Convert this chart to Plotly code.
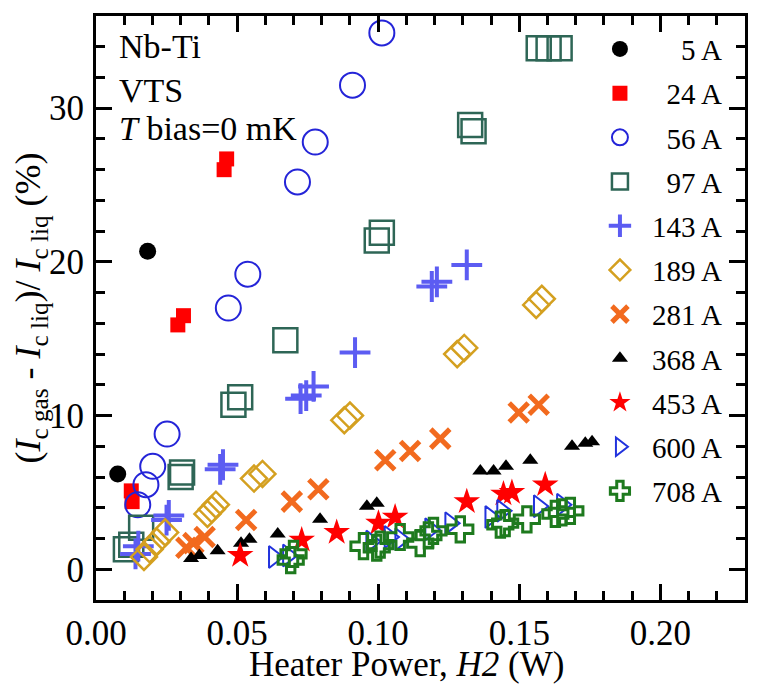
import plotly.graph_objects as go

# ---------------- data ----------------
labels = ["5 A", "24 A", "56 A", "97 A", "143 A", "189 A", "281 A",
          "368 A", "453 A", "600 A", "708 A"]

x_5 = [0.0077, 0.0183]
y_5 = [6.2, 20.7]

x_24 = [0.0125, 0.0128, 0.0290, 0.0310, 0.0454, 0.0463]
y_24 = [5.1, 4.4, 15.9, 16.5, 26.0, 26.7]

x_56 = [0.0148, 0.0177, 0.0201, 0.0252, 0.0469, 0.0538, 0.0714, 0.0777, 0.0909, 0.1013]
y_56 = [4.2, 5.5, 6.7, 8.8, 17.0, 19.2, 25.2, 27.8, 31.5, 34.9]

x_97 = [0.0106, 0.0125, 0.0160, 0.0300, 0.0305, 0.0487, 0.0511, 0.0671,
        0.0995, 0.1013, 0.1326, 0.1338, 0.1569, 0.1604, 0.1643]
y_97 = [1.3, 1.6, 2.7, 6.0, 6.3, 10.7, 11.2, 14.9,
        21.4, 21.9, 28.9, 28.5, 33.9, 33.9, 33.9]

x_143 = [0.0140, 0.0150, 0.0250, 0.0258, 0.0440, 0.0450, 0.0725, 0.0745,
         0.0771, 0.0918, 0.1190, 0.1208, 0.1314]
y_143 = [1.0, 1.5, 3.2, 3.5, 6.5, 6.8, 11.1, 11.3,
         11.9, 14.1, 18.4, 18.7, 19.8]

x_189 = [0.0170, 0.0190, 0.0215, 0.0245, 0.0395, 0.0410, 0.0425, 0.0560,
         0.0590, 0.0880, 0.0900, 0.1280, 0.1305, 0.1560, 0.1580]
y_189 = [0.8, 1.3, 1.8, 2.4, 3.6, 3.9, 4.2, 5.9,
         6.2, 9.7, 10.0, 14.0, 14.4, 17.2, 17.6]

x_281 = [0.0320, 0.0345, 0.0385, 0.0532, 0.0694, 0.0788, 0.1025, 0.1113,
         0.1220, 0.1498, 0.1569]
y_281 = [1.4, 1.7, 2.1, 3.2, 4.4, 5.2, 7.1, 7.7,
         8.5, 10.2, 10.7]

x_368 = [0.0337, 0.0366, 0.0431, 0.0514, 0.0544, 0.0644, 0.0794, 0.0960,
         0.0995, 0.1362, 0.1409, 0.1453, 0.1539, 0.1687, 0.1734, 0.1758]
y_368 = [0.7, 0.9, 1.2, 1.7, 1.95, 2.3, 3.25, 4.1,
         4.3, 6.4, 6.4, 6.7, 7.1, 8.0, 8.2, 8.3]

x_453 = [0.0511, 0.0729, 0.0853, 0.1001, 0.1060, 0.1314, 0.1444, 0.1474, 0.1592]
y_453 = [0.9, 1.9, 2.4, 3.0, 3.4, 4.4, 4.9, 5.0, 5.5]

x_600 = [0.0630, 0.0680, 0.0975, 0.1040, 0.1078, 0.1184, 0.1255, 0.1397,
         0.1439, 0.1569, 0.1651]
y_600 = [0.8, 0.9, 1.8, 2.1, 1.95, 2.6, 3.0, 3.4,
         3.8, 4.1, 4.2]

x_708 = [0.0690, 0.0700, 0.0948, 0.0995, 0.1007, 0.1078, 0.1149, 0.1178,
         0.1196, 0.1291, 0.1433, 0.1450, 0.1527, 0.1628, 0.1651, 0.1681]
y_708 = [0.6, 1.0, 1.5, 1.4, 1.6, 2.1, 1.7, 2.2,
         2.5, 2.6, 2.9, 3.0, 3.25, 3.6, 3.7, 3.8]

x_ticks = [0.00, 0.05, 0.10, 0.15, 0.20]
y_ticks = [0, 10, 20, 30]

x_title = "Heater Power, <i>H2</i> (W)"
y_title = "(<i>I</i><sub>c gas</sub> - <i>I</i><sub>c liq</sub>)/ <i>I</i><sub>c liq</sub> (%)"

# ---------------- styles ----------------
xs = [x_5, x_24, x_56, x_97, x_143, x_189, x_281, x_368, x_453, x_600, x_708]
ys = [y_5, y_24, y_56, y_97, y_143, y_189, y_281, y_368, y_453, y_600, y_708]

styles = [
    dict(symbol="circle", size=17, color="black", line=dict(width=0)),
    dict(symbol="square", size=15, color="#ff0000", line=dict(width=0)),
    dict(symbol="circle-open", size=25, color="#2424d8", line=dict(width=2, color="#2424d8")),
    dict(symbol="square-open", size=24, color="#2e6656", line=dict(width=2.5, color="#2e6656")),
    dict(symbol="cross-thin-open", size=22, color="#5c5cf2", line=dict(width=4, color="#5c5cf2")),
    dict(symbol="diamond-open", size=20, color="#d4a020", line=dict(width=2.5, color="#d4a020")),
    dict(symbol="x-thin-open", size=19, color="#f26a1e", line=dict(width=5, color="#f26a1e")),
    dict(symbol="triangle-up", size=14, color="black", line=dict(width=0)),
    dict(symbol="star", size=20, color="#ff0000", line=dict(width=0)),
    dict(symbol="triangle-right-open", size=19, color="#2233dd", line=dict(width=2, color="#2233dd")),
    dict(symbol="cross-open", size=21, color="#1e7a1e", line=dict(width=3, color="#1e7a1e")),
]

NB = "\u00a0"
maxlen = max(len(l) for l in labels)

fig = go.Figure()
for i, (lab, xv, yv, st) in enumerate(zip(labels, xs, ys, styles)):
    pad = NB * (2 * (maxlen - len(lab)))
    fig.add_trace(go.Scatter(
        x=xv, y=yv, mode="markers", name=pad + lab,
        legendgroup="g%d" % i,
        marker=st,
    ))

FONT = "Liberation Serif, Times New Roman, serif"

axis_common = dict(
    showline=True, linewidth=3, linecolor="black", mirror="allticks",
    ticks="inside", ticklen=16, tickwidth=2.5, tickcolor="black",
    showgrid=False, zeroline=False, automargin=False,
    tickfont=dict(family=FONT, size=35, color="black"),
)

fig.update_xaxes(
    range=[0, 0.23], tickvals=x_ticks, tickformat=".2f",
    minor=dict(dtick=0.01, ticks="inside", ticklen=9, tickwidth=2.5, tickcolor="black"),
    **axis_common,
)
fig.update_yaxes(
    range=[-2, 36], tickvals=y_ticks, ticklabelstandoff=2,
    minor=dict(dtick=2, ticks="inside", ticklen=9, tickwidth=2.5, tickcolor="black"),
    title=dict(text=y_title, font=dict(family=FONT, size=36, color="black"), standoff=24),
    **axis_common,
)

# x-axis title (placed as paper annotation to match the reference offset)
fig.add_annotation(text=x_title, xref="paper", yref="paper", x=0.479, y=-0.1113,
                   xanchor="center", yanchor="middle", showarrow=False,
                   font=dict(family=FONT, size=35, color="black"))

for txt, yp in [("Nb-Ti", 0.947), ("VTS", 0.873), ("<i>T</i> bias=0 mK", 0.808)]:
    fig.add_annotation(text=txt, xref="paper", yref="paper", x=0.032, y=yp,
                       xanchor="left", yanchor="middle", showarrow=False,
                       font=dict(family=FONT, size=34, color="black"))

# the page body has an 8 px margin at top/left, the figure is shifted to compensate
fig.update_layout(
    width=749, height=677,
    margin=dict(l=88, r=12, t=8, b=85),
    paper_bgcolor="white", plot_bgcolor="white",
    font=dict(family=FONT, color="black"),
    legend=dict(
        x=0.758, y=0.987, xanchor="left", yanchor="top",
        bgcolor="rgba(0,0,0,0)", borderwidth=0,
        font=dict(family=FONT, size=29, color="black"),
        traceorder="grouped", tracegroupgap=3.5, itemwidth=54,
    ),
    showlegend=True,
)

fig.write_html("out.html")
